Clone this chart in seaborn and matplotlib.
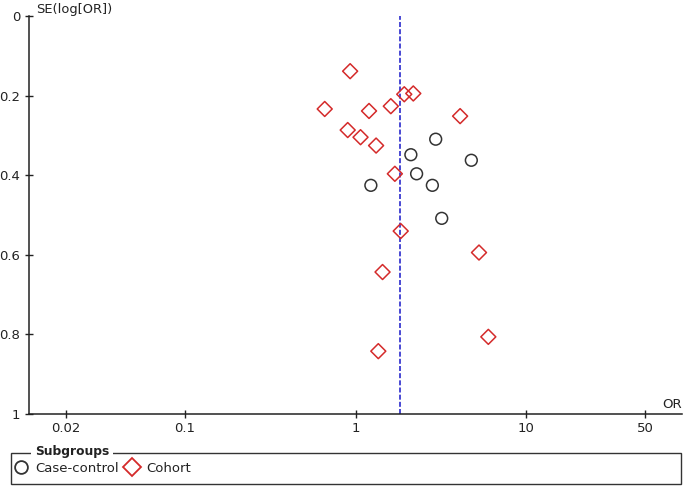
import matplotlib
matplotlib.use("Agg")
import matplotlib.pyplot as plt
import matplotlib.ticker as ticker
from matplotlib.lines import Line2D
from matplotlib.patches import Rectangle
import pandas as pd
import seaborn as sns

# Values (odds ratio vs. standard error of log OR)
cc_or = [2.95, 2.11, 4.77, 2.28, 2.82, 1.23, 3.20]
cc_se = [0.309, 0.348, 0.362, 0.396, 0.425, 0.425, 0.508]
cohort_or = [0.93, 1.93, 2.18, 0.66, 1.20, 1.61, 4.10, 0.90,
             1.07, 1.32, 1.70, 1.84, 5.29, 1.44, 6.00, 1.36]
cohort_se = [0.138, 0.196, 0.194, 0.233, 0.238, 0.226, 0.251, 0.286,
             0.304, 0.325, 0.396, 0.540, 0.594, 0.643, 0.806, 0.842]
pooled_or = 1.82

x_ticks = [0.02, 0.1, 1, 10, 50]
x_tick_labels = ["0.02", "0.1", "1", "10", "50"]
y_ticks = [0, 0.2, 0.4, 0.6, 0.8, 1]
y_tick_labels = ["0", "0.2", "0.4", "0.6", "0.8", "1"]

df = pd.concat([
    pd.DataFrame({"OR": cc_or, "SE": cc_se, "Subgroup": "Case-control"}),
    pd.DataFrame({"OR": cohort_or, "SE": cohort_se, "Subgroup": "Cohort"}),
])

sns.set_style("white")
plt.rcParams["font.family"] = ["DejaVu Sans"]

styles = {
    "Case-control": dict(marker="o", s=72, color="#333333", ms=9.2),
    "Cohort": dict(marker="D", s=58, color="#D42A2A", ms=8.8),
}

fig = plt.figure(figsize=(6.85, 4.87), dpi=100)
ax = fig.add_axes([0.0428, 0.1499, 0.9524, 0.8166])

for name, sub in df.groupby("Subgroup", sort=False):
    st = styles[name]
    sns.scatterplot(data=sub, x="OR", y="SE", marker=st["marker"], s=st["s"],
                    color=st["color"], facecolor="none", edgecolor=st["color"],
                    linewidth=1.1, ax=ax, legend=False, zorder=3)

# pooled estimate
ax.axvline(pooled_or, color="#2A2ACC", linewidth=1.2, dashes=(3, 1.3), zorder=2)

ax.set_xscale("log")
ax.set_xlim(0.01227, 81.5)
ax.set_ylim(1, 0)
ax.set_xticks(x_ticks)
ax.set_xticklabels(x_tick_labels)
ax.xaxis.set_minor_locator(ticker.NullLocator())
ax.set_yticks(y_ticks)
ax.set_yticklabels(y_tick_labels)
ax.set_xlabel("")
ax.set_ylabel("")

for side in ["top", "right"]:
    ax.spines[side].set_visible(False)
for side in ["left", "bottom"]:
    ax.spines[side].set_linewidth(1.1)
    ax.spines[side].set_color("#222222")
ax.tick_params(axis="both", which="major", bottom=True, left=True,
               direction="inout", length=6, width=1,
               color="#222222", labelcolor="#222222", labelsize=9.5)
ax.tick_params(axis="y", pad=3.5)
ax.tick_params(axis="x", pad=2.5)

fig.text(36 / 685, 1 - 13.5 / 487, "SE(log[OR])", fontsize=9.4,
         color="#222222", va="baseline", ha="left")
fig.text(682 / 685, 1 - 407.7 / 487, "OR", fontsize=9.6,
         color="#222222", va="baseline", ha="right")

# legend box with the title sitting on the top border
fig.patches.append(Rectangle((10.7 / 685, 3 / 487), 670 / 685, 31.3 / 487,
                             transform=fig.transFigure, fill=False,
                             edgecolor="#333333", linewidth=1.0))
fig.text(35 / 685, 1 - 452 / 487, "Subgroups", fontsize=8.8, fontweight="bold",
         color="#222222", va="center", ha="left", zorder=5,
         bbox=dict(facecolor="white", edgecolor="none", boxstyle="square,pad=0.3"))

handles = [Line2D([], [], linestyle="none", marker=styles[k]["marker"],
                  markersize=styles[k]["ms"], markerfacecolor="none",
                  markeredgecolor=styles[k]["color"], markeredgewidth=1.3)
           for k in styles]
fig.legend(handles, list(styles), loc="center left",
           bbox_to_anchor=(14.4 / 685, 1 - 468.3 / 487), frameon=False,
           ncol=2, fontsize=9.5, handlelength=1.0, handletextpad=0.55,
           columnspacing=0.55, borderpad=0, borderaxespad=0,
           labelcolor="#222222")

fig.savefig("out.png", dpi=100)
